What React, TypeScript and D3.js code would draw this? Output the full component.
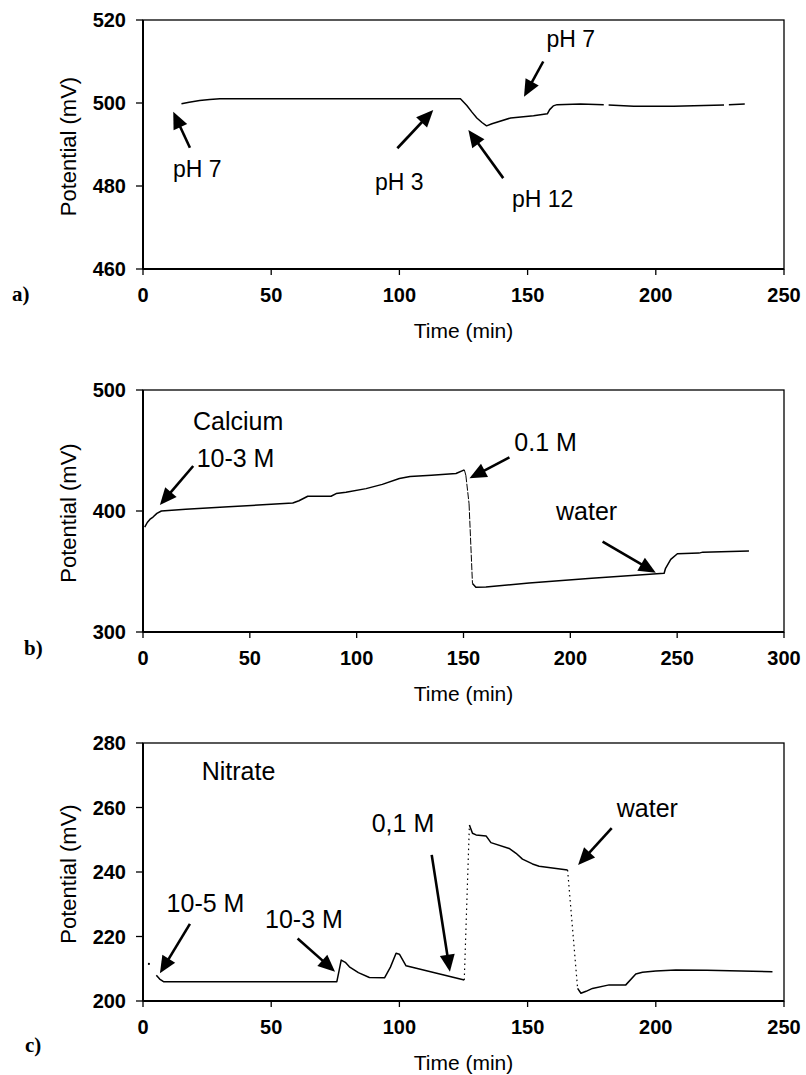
import React from 'react';
import * as d3 from 'd3';

const W = 806;
const H = 1075;

// ---------- Panel a: pH ----------
const aTime = [15, 18, 22.1, 26, 30, 60, 90, 123.8, 126.3, 128.3, 130.2, 132.2, 134, 136.1, 143.4, 152.3, 157.7, 158.6, 160, 161.5, 170.6, 179.7, NaN, 181.6, 191.4, 207, 226.6, NaN, 228.5, 234.7];
const aValue = [499.8, 500.2, 500.6, 500.85, 501, 501, 501, 501, 499.4, 497.8, 496.4, 495.3, 494.5, 495, 496.4, 496.9, 497.4, 498.4, 499.3, 499.6, 499.75, 499.6, NaN, 499.5, 499.2, 499.2, 499.5, NaN, 499.6, 499.75];
const aXTicks = [0, 50, 100, 150, 200, 250];
const aYTicks = [460, 480, 500, 520];

// ---------- Panel b: Calcium ----------
const bTime = [0.8, 2, 3.5, 4.7, 6.5, 8.6, 20, 40, 60, 70.1, 73, 77.1, 88, 90.4, 95, 104.4, 112, 120, 125, 135, 146.5, 150.4, 151.1, 152.6, 154.2, 155.8, 160.5, 180.7, 210, 243.9, 244.5, 247, 250.1, 260.2, 262, 283.6];
const bValue = [386.7, 390.5, 393.5, 395, 398, 400, 401.5, 403.5, 405.5, 406.6, 408.5, 412.2, 412.2, 414.4, 415.5, 418.5, 422, 426.8, 428.5, 429.5, 431, 434, 429.5, 406, 340, 337, 337.2, 340.5, 344.5, 348.6, 352.3, 360, 364.7, 365.2, 366, 366.9];
const bDottedStarts = [150.4, 151.1, 152.6];
const bXTicks = [0, 50, 100, 150, 200, 250, 300];
const bYTicks = [300, 400, 500];

// ---------- Panel c: Nitrate ----------
const cDot = [2.3, 211.5];
const cTime = [5.2, 6.5, 8, 20, 50, 75.6, 76.5, 77.3, 78.9, 80.5, 84, 88.3, 94.2, 96.5, 98.7, 100, 102.6, 125.3, 127.3, 128.5, 129.9, 133.8, 135.7, 142.8, 145.5, 148, 151.9, 154.5, 165.6, 169.5, 170.8, 172.8, 175.3, 181.8, 188.3, 192.2, 194.8, 200, 207.8, 220, 245.5];
const cValue = [208, 206.8, 206, 206, 206, 206, 209.5, 212.7, 212, 210.6, 208.8, 207.3, 207.2, 210.5, 214.8, 214.5, 210.9, 206.5, 254.6, 252, 251.5, 251.2, 249.1, 247.3, 245.8, 244, 242.5, 241.8, 240.6, 203.9, 202.4, 203, 203.9, 205, 205, 208.4, 208.9, 209.3, 209.6, 209.5, 209.1];
const cDottedStarts = [125.3, 165.6];
const cXTicks = [0, 50, 100, 150, 200, 250];
const cYTicks = [200, 220, 240, 260, 280];

// ---------- Annotations (data coordinates) ----------
type Ann = { label: string; t: number; v: number; from?: [number, number]; to?: [number, number] };
const aAnn: Ann[] = [
  { label: 'pH 7', t: 11.7, v: 482.2, from: [18.3, 489.2], to: [11.8, 497.9] },
  { label: 'pH 3', t: 90.5, v: 479, from: [99.2, 489.1], to: [113.2, 498.3] },
  { label: 'pH 12', t: 143.9, v: 475, from: [140.5, 481.9], to: [126.9, 493.5] },
  { label: 'pH 7', t: 157.4, v: 513.6, from: [156.1, 510], to: [148.6, 501.5] },
];
const bAnn: Ann[] = [
  { label: 'Calcium', t: 23.4, v: 466.9 },
  { label: '10-3 M', t: 25.1, v: 436.6, from: [23.5, 437.2], to: [7.9, 404.9] },
  { label: '0.1 M', t: 173.8, v: 449.8, from: [171.5, 444.4], to: [152.8, 427.0] },
  { label: 'water', t: 193.3, v: 392.6, from: [215.1, 374.6], to: [240, 349] },
];
const cAnn: Ann[] = [
  { label: 'Nitrate', t: 22.9, v: 268.5 },
  { label: '10-5 M', t: 9.2, v: 227.6, from: [18.3, 223.9], to: [6.6, 208.6] },
  { label: '10-3 M', t: 47.6, v: 222.6, from: [60.3, 219.4], to: [74.9, 209.1] },
  { label: '0,1 M', t: 89.2, v: 252.4, from: [112.6, 245.3], to: [119.7, 209.1] },
  { label: 'water', t: 184.8, v: 257.1, from: [182.8, 253.6], to: [169.7, 242.2] },
];

const SANS = '"Liberation Sans", Arial, Helvetica, sans-serif';
const SERIF = '"Liberation Serif", "Times New Roman", serif';

type Pt = { t: number; v: number };

function splitRuns(times: number[], values: number[], dottedStarts: number[]) {
  const solid: Pt[][] = [];
  const dotted: Pt[][] = [];
  let cur: Pt[] = [];
  for (let i = 0; i < times.length; i++) {
    const p = { t: times[i], v: values[i] };
    cur.push(p);
    if (dottedStarts.includes(times[i]) && i < times.length - 1) {
      solid.push(cur);
      dotted.push([p, { t: times[i + 1], v: values[i + 1] }]);
      cur = [];
    }
  }
  solid.push(cur);
  return { solid, dotted };
}

function Arrow({ x1, y1, x2, y2 }: { x1: number; y1: number; x2: number; y2: number }) {
  const dx = x2 - x1;
  const dy = y2 - y1;
  const len = Math.hypot(dx, dy);
  const ux = dx / len;
  const uy = dy / len;
  const L = 17;
  const hw = 7.5;
  const bx = x2 - ux * L;
  const by = y2 - uy * L;
  const pts = [
    [x2, y2],
    [bx - uy * hw, by + ux * hw],
    [bx + uy * hw, by - ux * hw],
  ];
  return (
    <g>
      <line x1={x1} y1={y1} x2={bx + ux * 3} y2={by + uy * 3} stroke="#000" strokeWidth={2.6} />
      <polygon points={pts.map((p) => p.join(',')).join(' ')} fill="#000" />
    </g>
  );
}

type PanelProps = {
  top: number;
  bottom: number;
  xMax: number;
  yDomain: [number, number];
  xTicks: number[];
  yTicks: number[];
  times: number[];
  values: number[];
  dottedStarts: number[];
  dottedWidth: number;
  dottedDash: string;
  anns: Ann[];
  annSize: number;
  letter: string;
  letterX: number;
  letterY: number;
  dot?: number[];
};

function Panel(p: PanelProps) {
  const left = 143;
  const right = 784;
  const x = d3.scaleLinear().domain([0, p.xMax]).range([left, right]);
  const y = d3.scaleLinear().domain(p.yDomain).range([p.bottom, p.top]);
  const line = d3
    .line<Pt>()
    .defined((d) => !isNaN(d.v) && !isNaN(d.t))
    .x((d) => x(d.t))
    .y((d) => y(d.v));
  const { solid, dotted } = splitRuns(p.times, p.values, p.dottedStarts);
  const midY = (p.top + p.bottom) / 2;
  return (
    <g>
      {/* frame */}
      <rect x={left} y={p.top} width={right - left} height={p.bottom - p.top} fill="none" stroke="#000" strokeWidth={1.3} />
      <line x1={left} y1={p.top} x2={left} y2={p.bottom} stroke="#000" strokeWidth={2} />
      <line x1={left} y1={p.bottom} x2={right} y2={p.bottom} stroke="#000" strokeWidth={2} />
      {/* x ticks */}
      {p.xTicks.map((t) => (
        <g key={'xt' + t}>
          <line x1={x(t)} x2={x(t)} y1={p.bottom} y2={p.bottom + 6} stroke="#000" strokeWidth={1.3} />
          <text x={x(t)} y={p.bottom + 32.5} textAnchor="middle" fontFamily={SANS} fontWeight="bold" fontSize={20}>
            {t}
          </text>
        </g>
      ))}
      {/* y ticks */}
      {p.yTicks.map((v) => (
        <g key={'yt' + v}>
          <line x1={left - 7} x2={left} y1={y(v)} y2={y(v)} stroke="#000" strokeWidth={1.3} />
          <text x={126} y={y(v)} dy="0.36em" textAnchor="end" fontFamily={SANS} fontWeight="bold" fontSize={20}>
            {v}
          </text>
        </g>
      ))}
      {/* axis titles */}
      <text x={(left + right) / 2} y={p.bottom + 68.5} textAnchor="middle" fontFamily={SANS} fontSize={21}>
        Time (min)
      </text>
      <text transform={`translate(76,${midY + 2}) rotate(-90)`} textAnchor="middle" fontFamily={SANS} fontSize={22}>
        Potential (mV)
      </text>
      {/* panel letter */}
      <text x={p.letterX} y={p.letterY} fontFamily={SERIF} fontWeight="bold" fontSize={21}>
        {p.letter}
      </text>
      {/* data */}
      {solid.map((run, i) => (
        <path key={'s' + i} d={line(run) || ''} fill="none" stroke="#000" strokeWidth={1.5} strokeLinejoin="round" />
      ))}
      {dotted.map((run, i) => (
        <path key={'d' + i} d={line(run) || ''} fill="none" stroke="#000" strokeWidth={p.dottedWidth} strokeDasharray={p.dottedDash} />
      ))}
      {p.dot && <circle cx={x(p.dot[0])} cy={y(p.dot[1])} r={1.1} fill="#000" />}
      {/* annotations */}
      {p.anns.map((a, i) => (
        <g key={'a' + i}>
          <text x={x(a.t)} y={y(a.v)} fontFamily={SANS} fontSize={p.annSize}>
            {a.label}
          </text>
          {a.from && a.to && <Arrow x1={x(a.from[0])} y1={y(a.from[1])} x2={x(a.to[0])} y2={y(a.to[1])} />}
        </g>
      ))}
    </g>
  );
}

export default function App() {
  return (
    <svg width={W} height={H} style={{ position: 'absolute', left: 0, top: 0, background: '#fff' }}>
      <rect x={0} y={0} width={W} height={H} fill="#fff" />
      <Panel
        top={20}
        bottom={269}
        xMax={250}
        yDomain={[460, 520]}
        xTicks={aXTicks}
        yTicks={aYTicks}
        times={aTime}
        values={aValue}
        dottedStarts={[]}
        dottedWidth={1}
        dottedDash="2,3"
        anns={aAnn}
        annSize={23}
        letter="a)"
        letterX={12}
        letterY={301}
      />
      <Panel
        top={390}
        bottom={632}
        xMax={300}
        yDomain={[300, 500]}
        xTicks={bXTicks}
        yTicks={bYTicks}
        times={bTime}
        values={bValue}
        dottedStarts={bDottedStarts}
        dottedWidth={1}
        dottedDash="7,1.5"
        anns={bAnn}
        annSize={25}
        letter="b)"
        letterX={24}
        letterY={655}
      />
      <Panel
        top={743}
        bottom={1001}
        xMax={250}
        yDomain={[200, 280]}
        xTicks={cXTicks}
        yTicks={cYTicks}
        times={cTime}
        values={cValue}
        dottedStarts={cDottedStarts}
        dottedWidth={1.2}
        dottedDash="1.5,3.5"
        anns={cAnn}
        annSize={25}
        letter="c)"
        letterX={25}
        letterY={1052}
        dot={cDot}
      />
    </svg>
  );
}
